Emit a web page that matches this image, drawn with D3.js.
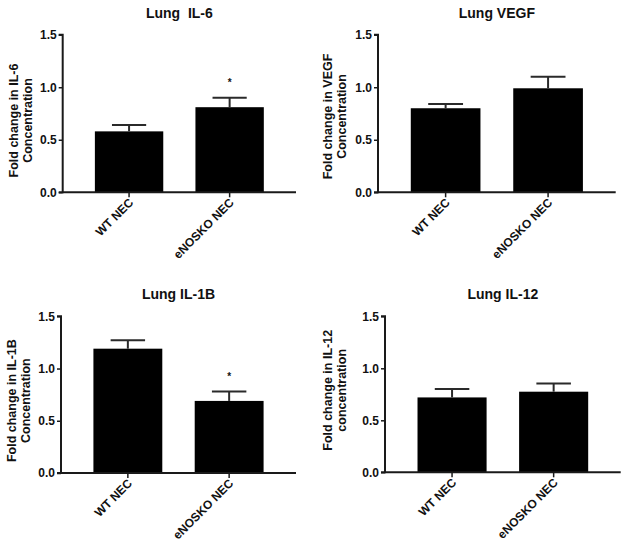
<!DOCTYPE html>
<html>
<head>
<meta charset="utf-8">
<script src="https://cdn.jsdelivr.net/npm/d3@7"></script>
<style>
  html, body { margin: 0; padding: 0; background: #fff; }
  svg { display: block; }
  text { font-family: "Liberation Sans", Arial, Helvetica, sans-serif; font-weight: bold; fill: #111; }
</style>
</head>
<body>
<svg id="chart" width="628" height="548"></svg>
<script>
// ---- data ----
const categories = ["WT NEC", "eNOSKO NEC"];
const titles = ["Lung  IL-6", "Lung VEGF", "Lung IL-1B", "Lung IL-12"];
const yLabelLine1 = ["Fold change in IL-6", "Fold change in VEGF", "Fold change in IL-1B", "Fold change in IL-12"];
const yLabelLine2 = ["Concentration", "Concentration", "Concentration", "concentration"];
const meansIL6 = [0.58, 0.81];
const meansVEGF = [0.80, 0.99];
const meansIL1B = [1.19, 0.69];
const meansIL12 = [0.72, 0.775];
const semIL6 = [0.06, 0.09];
const semVEGF = [0.04, 0.11];
const semIL1B = [0.08, 0.09];
const semIL12 = [0.08, 0.08];
const sigIL6 = [false, true];
const sigVEGF = [false, false];
const sigIL1B = [false, true];
const sigIL12 = [false, false];
const yTicks = [0, 0.5, 1.0, 1.5];
const yTickLabels = ["0.0", "0.5", "1.0", "1.5"];

const means = [meansIL6, meansVEGF, meansIL1B, meansIL12];
const sems = [semIL6, semVEGF, semIL1B, semIL12];
const sigs = [sigIL6, sigVEGF, sigIL1B, sigIL12];

// ---- layout (positions only) ----
const layout = [
  { left: 62.7, right: 296,   top: 34.7,  bottom: 192.3, labelDx: -49, labelDy: 7 },
  { left: 378,  right: 615.7, top: 34.7,  bottom: 192.3, labelDx: -50, labelDy: 3 },
  { left: 61,   right: 296,   top: 316.3, bottom: 473,   labelDx: -49, labelDy: 6 },
  { left: 385,  right: 620.7, top: 316.3, bottom: 472.3, labelDx: -57, labelDy: -4 }
];

const svg = d3.select("#chart");
const ink = "#1a1a1a";

layout.forEach((L, i) => {
  const g = svg.append("g");
  const y = d3.scaleLinear().domain([0, 1.5]).range([L.bottom, L.top]);
  const x = d3.scaleBand().domain(categories).range([L.left, L.right])
    .paddingInner(0.32).paddingOuter(0.32);

  const rows = categories.map((c, j) => ({ c, m: means[i][j], e: sems[i][j], s: sigs[i][j] }));

  // bars
  g.selectAll("rect.bar").data(rows).enter().append("rect")
    .attr("class", "bar")
    .attr("x", d => x(d.c))
    .attr("width", x.bandwidth())
    .attr("y", d => y(d.m))
    .attr("height", d => y(0) - y(d.m))
    .attr("fill", "#000");

  // error bars (upper only)
  const eb = g.selectAll("g.err").data(rows).enter().append("g").attr("class", "err");
  eb.append("line")
    .attr("x1", d => x(d.c) + x.bandwidth() / 2)
    .attr("x2", d => x(d.c) + x.bandwidth() / 2)
    .attr("y1", d => y(d.m))
    .attr("y2", d => y(d.m + d.e))
    .attr("stroke", "#2a2a2a").attr("stroke-width", 2);
  eb.append("line")
    .attr("x1", d => x(d.c) + x.bandwidth() * 0.25)
    .attr("x2", d => x(d.c) + x.bandwidth() * 0.75)
    .attr("y1", d => y(d.m + d.e))
    .attr("y2", d => y(d.m + d.e))
    .attr("stroke", "#2a2a2a").attr("stroke-width", 2);

  // significance asterisk
  g.selectAll("text.sig").data(rows.filter(d => d.s)).enter().append("text")
    .attr("class", "sig")
    .attr("x", d => x(d.c) + x.bandwidth() / 2)
    .attr("y", d => y(d.m + d.e) - 12)
    .attr("text-anchor", "middle")
    .attr("font-size", 10)
    .text("*");

  // y axis
  const yAxis = d3.axisLeft(y).tickValues(yTicks).tickSize(4).tickPadding(2)
    .tickFormat((d, k) => yTickLabels[k]);
  const ya = g.append("g").attr("transform", `translate(${L.left},0)`).call(yAxis);
  ya.select(".domain").attr("stroke", ink).attr("stroke-width", 2).attr("d", `M-4,${L.bottom}H0V${L.top}H-4`);
  ya.selectAll(".tick line").attr("stroke", ink).attr("stroke-width", 1.5);
  ya.selectAll(".tick text").attr("font-size", 12).attr("font-family", null).style("fill", "#111");

  // x axis
  const xAxis = d3.axisBottom(x).tickSize(5).tickFormat("");
  const xa = g.append("g").attr("transform", `translate(0,${L.bottom})`).call(xAxis);
  xa.select(".domain").attr("stroke", ink).attr("stroke-width", 2).attr("d", `M${L.left},0H${L.right}`);
  xa.selectAll(".tick line").attr("stroke", ink).attr("stroke-width", 1.5);

  // rotated category labels
  g.selectAll("text.cat").data(categories).enter().append("text")
    .attr("class", "cat")
    .attr("text-anchor", "end")
    .attr("font-size", 12)
    .attr("transform", c => `translate(${x(c) + x.bandwidth() / 2 + 5},${L.bottom + 11}) rotate(-45)`)
    .text(c => c);

  // title
  g.append("text")
    .attr("x", (L.left + L.right) / 2)
    .attr("y", L.top - 17)
    .attr("text-anchor", "middle")
    .attr("font-size", 14)
    .style("white-space", "pre")
    .attr("xml:space", "preserve")
    .text(titles[i]);

  // y label (two lines)
  const cy = (L.top + L.bottom) / 2 + L.labelDy;
  const yl = g.append("text")
    .attr("transform", `translate(${L.left + L.labelDx},${cy}) rotate(-90)`)
    .attr("text-anchor", "middle")
    .attr("font-size", 12.5);
  yl.append("tspan").attr("x", 0).attr("y", 0).attr("dy", "0.35em").text(yLabelLine1[i]);
  yl.append("tspan").attr("x", 0).attr("y", 13.5).attr("dy", "0.35em").text(yLabelLine2[i]);
});
</script>
</body>
</html>
